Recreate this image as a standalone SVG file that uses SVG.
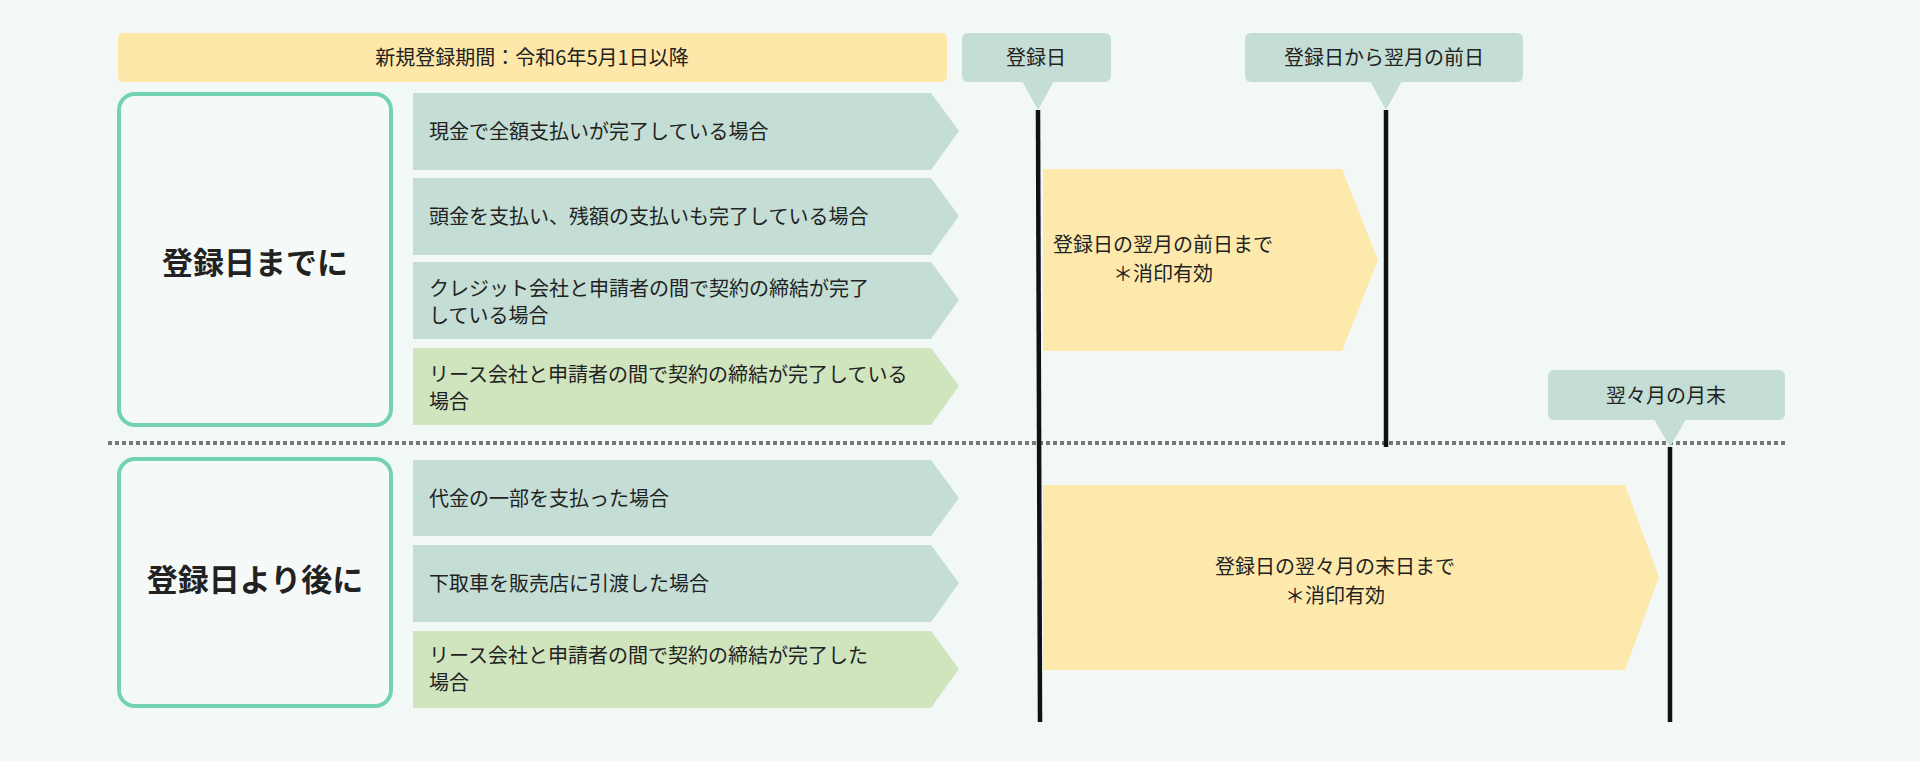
<svg xmlns="http://www.w3.org/2000/svg" width="1920" height="761" viewBox="0 0 1920 761">
<style>
text{font-family:"Noto Sans CJK JP","Noto Sans",sans-serif;fill:#222}
.t{font-size:20px}
.c{font-size:20px;text-anchor:middle}
.h{font-size:31px;font-weight:bold;text-anchor:middle}
.teal{fill:#c4ded6}
.grn{fill:#d0e4be}
.yel{fill:#fee9ad}
.box{fill:#f5faf8;stroke:#72d2b3;stroke-width:4}
.vl{stroke:#111;stroke-width:4.5}
</style>
<rect width="1920" height="761" fill="#f2f8f6"/>
<g id="period"><rect x="118" y="33" width="829" height="49" rx="5" fill="#fde8a9"/><text class="c" x="532" y="65">新規登録期間：令和6年5月1日以降</text></g>
<g id="before"><rect class="box" x="119" y="94" width="272" height="331" rx="16"/><text class="h" x="255" y="274">登録日までに</text></g>
<g id="after"><rect class="box" x="119" y="459" width="272" height="247" rx="16"/><text class="h" x="255" y="591">登録日より後に</text></g>
<g id="r1"><polygon class="teal" points="413,93 931,93 959,131 931,170 413,170"/><text class="t" x="429" y="139">現金で全額支払いが完了している場合</text></g>
<g id="r2"><polygon class="teal" points="413,178 931,178 959,216 931,255 413,255"/><text class="t" x="429" y="224">頭金を支払い、残額の支払いも完了している場合</text></g>
<g id="r3"><polygon class="teal" points="413,262 931,262 959,300 931,339 413,339"/><text class="t" x="429" y="296">クレジット会社と申請者の間で契約の締結が完了</text><text class="t" x="429" y="323">している場合</text></g>
<g id="r4"><polygon class="grn" points="413,348 931,348 959,386 931,425 413,425"/><text class="t" x="429" y="382">リース会社と申請者の間で契約の締結が完了している</text><text class="t" x="429" y="409">場合</text></g>
<g id="r5"><polygon class="teal" points="413,460 931,460 959,498 931,536 413,536"/><text class="t" x="429" y="506">代金の一部を支払った場合</text></g>
<g id="r6"><polygon class="teal" points="413,545 931,545 959,583 931,622 413,622"/><text class="t" x="429" y="591">下取車を販売店に引渡した場合</text></g>
<g id="r7"><polygon class="grn" points="413,631 931,631 959,669 931,708 413,708"/><text class="t" x="429" y="663">リース会社と申請者の間で契約の締結が完了した</text><text class="t" x="429" y="690">場合</text></g>
<g id="y1"><polygon class="yel" points="1043,169 1342,169 1378,260 1342,351 1043,351"/><text class="c" x="1163" y="252">登録日の翌月の前日まで</text><text class="c" x="1163" y="281">＊消印有効</text></g>
<g id="y2"><polygon class="yel" points="1043,485 1625,485 1659,577 1625,670 1043,670"/><text class="c" x="1335" y="574">登録日の翌々月の末日まで</text><text class="c" x="1335" y="603">＊消印有効</text></g>
<g id="connectors">
<line x1="108" y1="443" x2="1785" y2="443" stroke="#777" stroke-width="4" stroke-dasharray="4 3"/>
<line class="vl" x1="1038" y1="110" x2="1040" y2="722"/>
<line class="vl" x1="1386" y1="110" x2="1386" y2="447"/>
<line class="vl" x1="1670" y1="447" x2="1670" y2="722"/>
</g>
<g id="m1"><rect class="teal" x="962" y="33" width="149" height="49" rx="6"/><polygon class="teal" points="1022,81 1054,81 1038,110"/><text class="c" x="1036" y="65">登録日</text></g>
<g id="m2"><rect class="teal" x="1245" y="33" width="278" height="49" rx="6"/><polygon class="teal" points="1370,81 1402,81 1386,110"/><text class="c" x="1384" y="65">登録日から翌月の前日</text></g>
<g id="m3"><rect class="teal" x="1548" y="370" width="237" height="50" rx="6"/><polygon class="teal" points="1654,419 1686,419 1670,447"/><text class="c" x="1666" y="403">翌々月の月末</text></g>
</svg>
